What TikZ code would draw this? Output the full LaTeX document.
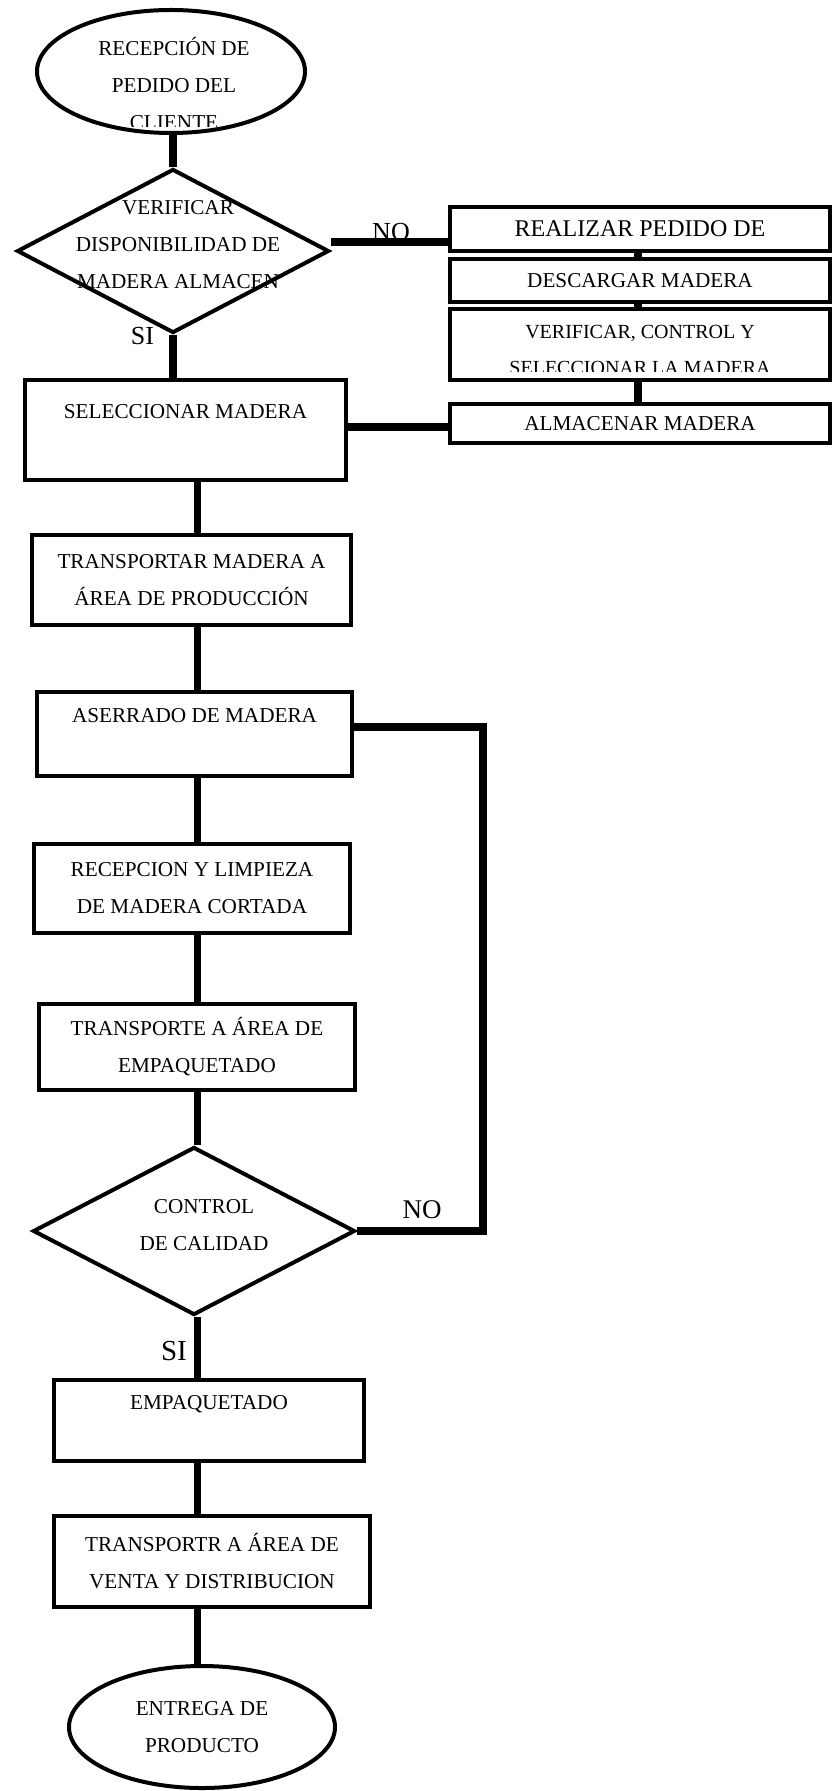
\documentclass[tikz,border=0pt]{standalone}
\usepackage{fontspec}
\setmainfont{Liberation Serif}
\usetikzlibrary{shapes.geometric}

\newcommand{\letra}{\fontsize{10.6pt}{18.5pt}\selectfont}
\newcommand{\letrag}{\fontsize{12pt}{18.5pt}\selectfont}
\newcommand{\letrav}{\fontsize{10pt}{18pt}\selectfont}

\tikzset{
  caja/.style={draw, line width=2pt, align=center, inner sep=0pt, font=\letra},
  ovalo/.style={draw, ellipse, line width=2pt, align=center, inner sep=0pt, font=\letra},
  rombo/.style={draw, diamond, line width=2pt, inner sep=0pt},
  texto/.style={align=center, inner sep=0pt, font=\letra},
  etiqueta/.style={inner sep=0pt, anchor=base},
  linea/.style={line width=3.75pt}
}

\begin{document}
\begin{tikzpicture}[x=0.5pt, y=-0.5pt]
    \useasboundingbox (0,0) rectangle (835,1791);
    % ejes de los conectores
    \coordinate (ejeA) at (173,0);
    \coordinate (ejeB) at (197.5,0);
    \coordinate (ejeC) at (638,0);
    \coordinate (retorno) at (483,0);

    % inicio
    \node[ovalo, minimum width=134pt, minimum height=61.5pt] (pedido) at (171,71.5) {};
    \begin{scope}
        \clip (30,0) rectangle (320,127);
        \node[texto] (pedidotxt) at (174,84) {RECEPCIÓN DE\\PEDIDO DEL\\CLIENTE};
    \end{scope}

    % disponibilidad en almacen
    \node[texto] (disptxt) at (178,245) {VERIFICAR\\DISPONIBILIDAD DE\\MADERA ALMACEN};
    \node[rombo, minimum width=156pt, minimum height=82pt] (disp) at (173,251) {};

    % pedido al proveedor
    \node[caja, minimum width=190pt, minimum height=22pt, font=\letrag] (pedir) at (640,229) {REALIZAR PEDIDO DE};
    \node[caja, minimum width=190pt, minimum height=21.5pt] (descarga) at (640,280.5) {DESCARGAR MADERA};
    \node[caja, minimum width=190pt, minimum height=35.5pt] (verif) at (640,344.5) {};
    \begin{scope}
        \clip (450,300) rectangle (830,372);
        \node[texto, font=\letrav] (veriftxt) at (640,350) {VERIFICAR, CONTROL Y\\SELECCIONAR LA MADERA};
    \end{scope}
    \node[caja, minimum width=190pt, minimum height=19.5pt] (almacen) at (640,423.5) {ALMACENAR MADERA};

    % flujo principal
    \node[caja, minimum width=160.5pt, minimum height=50pt] (selec) at (185.5,430) {SELECCIONAR MADERA\\\mbox{}};
    \node[caja, minimum width=159.5pt, minimum height=45pt] (trans) at (191.5,580) {TRANSPORTAR MADERA A\\ÁREA DE PRODUCCIÓN};
    \node[caja, minimum width=157.5pt, minimum height=42pt] (aserrado) at (194.5,734) {ASERRADO DE MADERA\\\mbox{}};
    \node[caja, minimum width=158pt, minimum height=44.5pt] (limpieza) at (192,888.5) {RECEPCION Y LIMPIEZA\\DE MADERA CORTADA};
    \node[caja, minimum width=158pt, minimum height=43pt] (empaque) at (197,1047) {TRANSPORTE A ÁREA DE\\EMPAQUETADO};
    \node[texto] (controltxt) at (204,1225) {CONTROL\\DE CALIDAD};
    \node[rombo, minimum width=161pt, minimum height=84pt] (control) at (194,1231) {};
    \node[caja, minimum width=155pt, minimum height=40.5pt] (empaquetado) at (209,1420.5) {EMPAQUETADO\\\mbox{}};
    \node[caja, minimum width=158pt, minimum height=45.5pt] (venta) at (212,1561.5) {TRANSPORTR A ÁREA DE\\VENTA Y DISTRIBUCION};
    \node[ovalo, minimum width=133pt, minimum height=61pt] (entrega) at (202,1727) {ENTREGA DE\\PRODUCTO};

    % etiquetas
    \node[etiqueta, font=\fontsize{13pt}{13pt}\selectfont] (no1) at (391,241) {NO};
    \node[etiqueta, font=\fontsize{13pt}{13pt}\selectfont] (si1) at (142.5,345) {SI};
    \node[etiqueta, font=\fontsize{13.5pt}{13.5pt}\selectfont] (no2) at (422,1218) {NO};
    \node[etiqueta, font=\fontsize{14.5pt}{14.5pt}\selectfont] (si2) at (174,1360) {SI};

    % conectores
    \draw[linea] (pedido.south -| ejeA) -- (disp.north -| ejeA);
    \draw[linea] ([yshift=4.5pt]disp.east) -- ([yshift=4.5pt]disp.east -| pedir.west);
    \draw[linea] (disp.south -| ejeA) -- (selec.north -| ejeA);
    \draw[linea] (pedir.south -| ejeC) -- (descarga.north -| ejeC);
    \draw[linea] (descarga.south -| ejeC) -- (verif.north -| ejeC);
    \draw[linea] (verif.south -| ejeC) -- (almacen.north -| ejeC);
    \draw[linea] ([yshift=-1.75pt]almacen.west -| selec.east) -- ([yshift=-1.75pt]almacen.west);
    \foreach \a/\b in {selec/trans, trans/aserrado, aserrado/limpieza, limpieza/empaque,
                       empaque/control, control/empaquetado, empaquetado/venta, venta/entrega}
        \draw[linea] (\a.south -| ejeB) -- (\b.north -| ejeB);
    \draw[linea] ([yshift=3.5pt]aserrado.east) -| (control.east -| retorno) -- (control.east);
\end{tikzpicture}
\end{document}
